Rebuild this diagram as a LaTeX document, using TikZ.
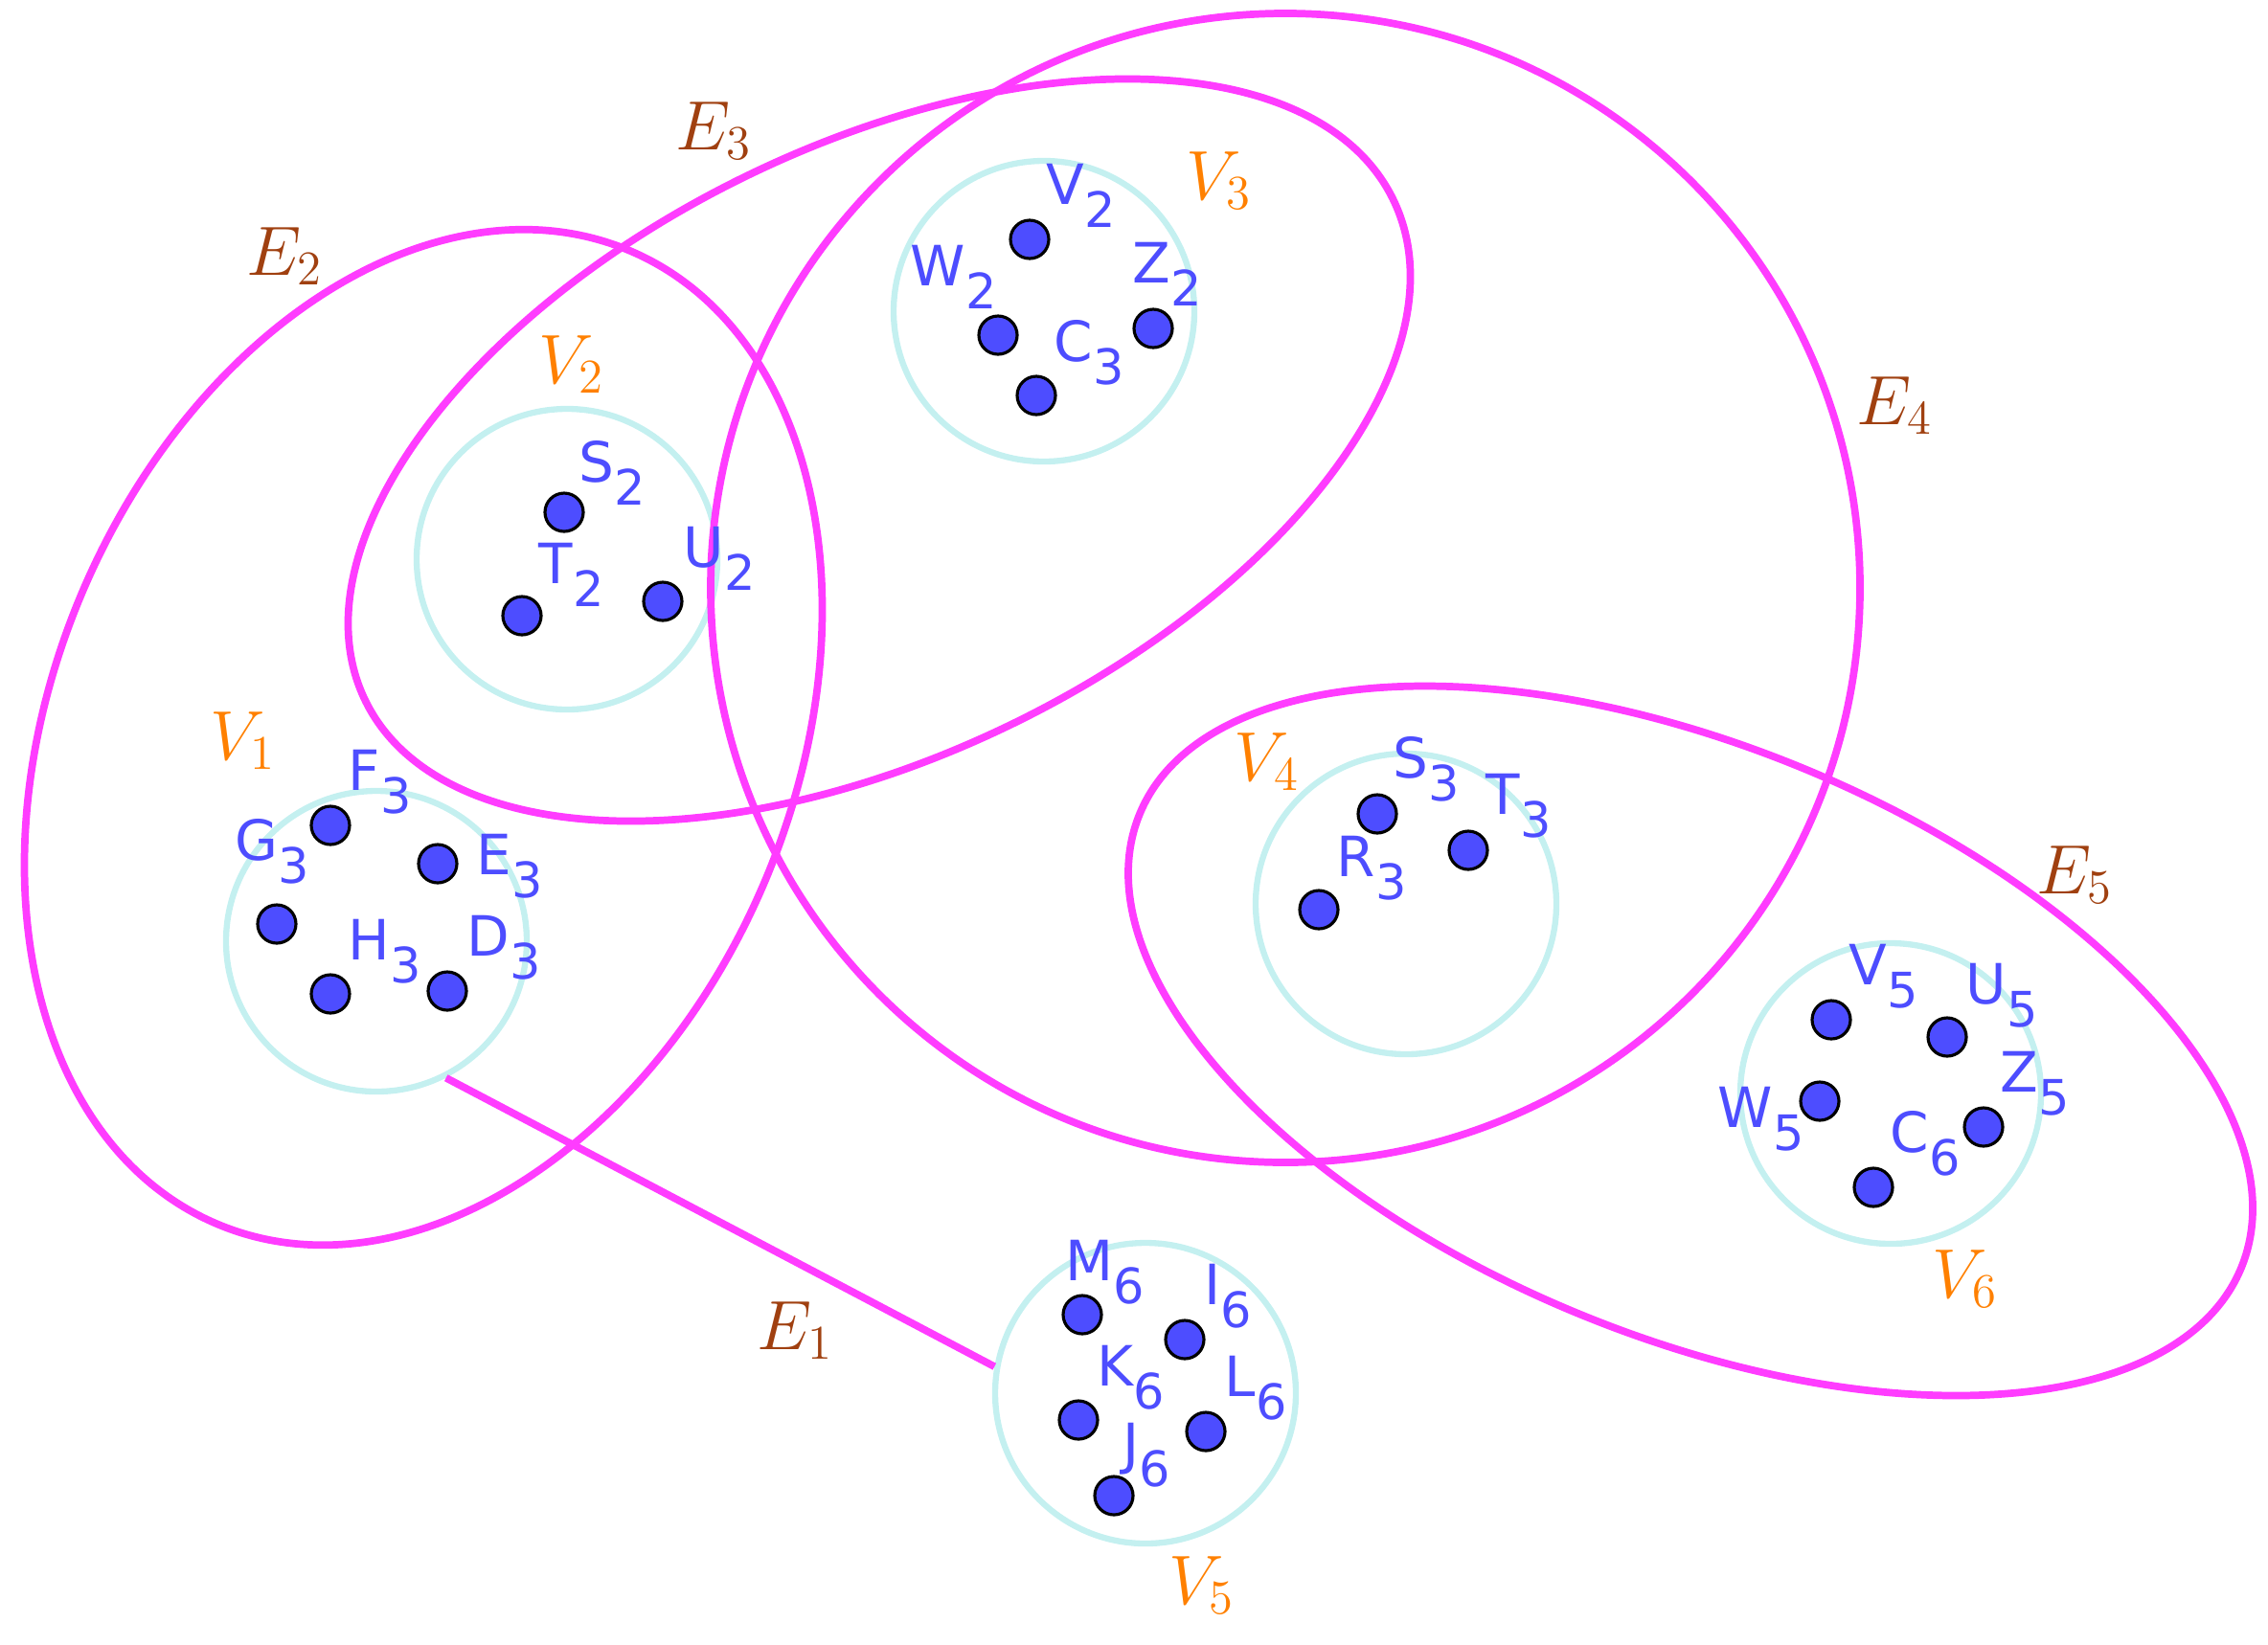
\documentclass[tikz,border=0pt]{standalone}
\usepackage{fontspec}
\usepackage{tikz}
\usetikzlibrary{positioning}
\newfontfamily\ptfont{DejaVu Sans}
\definecolor{ptblue}{RGB}{77,77,255}
\definecolor{setcyan}{RGB}{196,240,240}
\definecolor{edgemag}{RGB}{255,60,255}
\definecolor{setorange}{RGB}{255,128,0}
\definecolor{edgebrown}{RGB}{160,64,16}
\newcommand{\pname}[2]{#1\raisebox{-7pt}{\fontsize{14.5}{16}\selectfont#2}}

\begin{document}
\begin{tikzpicture}[vset/.style={circle,draw=setcyan,line width=1.8pt,minimum size=3.14cm,inner sep=0pt},
    pt/.style={circle,draw=black,fill=ptblue,line width=0.9pt,minimum size=4mm,inner sep=0pt},
    ptlabel/.style={anchor=base west,inner sep=0pt,text=ptblue,font=\ptfont\fontsize{16.5}{18}\selectfont},
    setlabel/.style={anchor=base west,inner sep=0pt,text=setorange,font=\fontsize{20}{24}\selectfont},
    edgelabel/.style={anchor=base west,inner sep=0pt,text=edgebrown,font=\fontsize{20}{24}\selectfont},
    hedge/.style={draw=edgemag,line width=2.2pt}]
    \useasboundingbox (0,0) rectangle (23.68,-17.17);
    \node[vset] (set1) at (3.93,-9.83) {};
    \node[vset] (set2) at (5.92,-5.84) {};
    \node[vset] (set3) at (10.90,-3.25) {};
    \node[vset] (set4) at (14.68,-9.44) {};
    \node[vset] (set5) at (11.96,-14.55) {};
    \node[vset] (set6) at (19.74,-11.42) {};
    \draw[hedge, rotate around={67:(4.42,-7.70)}] (4.42,-7.70) ellipse [x radius=5.52, y radius=3.87];
    \draw[hedge, rotate around={26:(9.18,-4.70)}] (9.18,-4.70) ellipse [x radius=5.97, y radius=3.18];
    \draw[hedge] (13.42,-6.14) circle [radius=6.0];
    \draw[hedge, rotate around={-22.4:(17.65,-10.87)}] (17.65,-10.87) ellipse [x radius=6.22, y radius=3.08];
    \draw[hedge] (set1.-63) -- (set5.170);
    \node[pt] (dF3) at (3.45,-8.62) {};
    \node[pt] (dE3) at (4.57,-9.02) {};
    \node[pt] (dG3) at (2.89,-9.65) {};
    \node[pt] (dH3) at (3.45,-10.38) {};
    \node[pt] (dD3) at (4.67,-10.35) {};
    \node[pt] (dS2) at (5.89,-5.35) {};
    \node[pt] (dT2) at (5.45,-6.43) {};
    \node[pt] (dU2) at (6.92,-6.28) {};
    \node[pt] (dV2) at (10.75,-2.50) {};
    \node[pt] (dW2) at (10.42,-3.50) {};
    \node[pt] (dZ2) at (12.04,-3.43) {};
    \node[pt] (dC3) at (10.82,-4.13) {};
    \node[pt] (dS3) at (14.38,-8.50) {};
    \node[pt] (dT3) at (15.33,-8.88) {};
    \node[pt] (dR3) at (13.77,-9.50) {};
    \node[pt] (dM6) at (11.30,-13.73) {};
    \node[pt] (dI6) at (12.37,-13.99) {};
    \node[pt] (dK6) at (11.26,-14.83) {};
    \node[pt] (dL6) at (12.59,-14.95) {};
    \node[pt] (dJ6) at (11.63,-15.62) {};
    \node[pt] (dV5) at (19.12,-10.65) {};
    \node[pt] (dU5) at (20.33,-10.83) {};
    \node[pt] (dW5) at (19.00,-11.50) {};
    \node[pt] (dZ5) at (20.71,-11.77) {};
    \node[pt] (dC6) at (19.56,-12.40) {};
    \node[ptlabel] (tF3) at (3.63,-8.25) {\pname{F}{3}};
    \node[ptlabel] (tG3) at (2.45,-8.98) {\pname{G}{3}};
    \node[ptlabel] (tE3) at (4.97,-9.13) {\pname{E}{3}};
    \node[ptlabel] (tH3) at (3.63,-10.02) {\pname{H}{3}};
    \node[ptlabel] (tD3) at (4.87,-9.98) {\pname{D}{3}};
    \node[ptlabel] (tS2) at (6.04,-5.03) {\pname{S}{2}};
    \node[ptlabel] (tT2) at (5.62,-6.09) {\pname{T}{2}};
    \node[ptlabel] (tU2) at (7.13,-5.92) {\pname{U}{2}};
    \node[ptlabel] (tV2) at (10.92,-2.13) {\pname{V}{2}};
    \node[ptlabel] (tW2) at (9.50,-2.98) {\pname{W}{2}};
    \node[ptlabel] (tZ2) at (11.82,-2.95) {\pname{Z}{2}};
    \node[ptlabel] (tC3) at (11.00,-3.77) {\pname{C}{3}};
    \node[ptlabel] (tS3) at (14.54,-8.12) {\pname{S}{3}};
    \node[ptlabel] (tT3) at (15.51,-8.50) {\pname{T}{3}};
    \node[ptlabel] (tR3) at (13.95,-9.15) {\pname{R}{3}};
    \node[ptlabel] (tM6) at (11.12,-13.37) {\pname{M}{6}};
    \node[ptlabel] (tI6) at (12.57,-13.62) {\pname{I}{6}};
    \node[ptlabel] (tK6) at (11.45,-14.47) {\pname{K}{6}};
    \node[ptlabel] (tL6) at (12.78,-14.58) {\pname{L}{6}};
    \node[ptlabel] (tJ6) at (11.72,-15.28) {\pname{J}{6}};
    \node[ptlabel] (tV5) at (19.30,-10.28) {\pname{V}{5}};
    \node[ptlabel] (tU5) at (20.52,-10.48) {\pname{U}{5}};
    \node[ptlabel] (tW5) at (17.93,-11.77) {\pname{W}{5}};
    \node[ptlabel] (tZ5) at (20.88,-11.40) {\pname{Z}{5}};
    \node[ptlabel] (tC6) at (19.73,-12.03) {\pname{C}{6}};
    \node[setlabel] (lV1) at (2.19,-7.93) {$V_1$};
    \node[setlabel] (lV2) at (5.62,-4.00) {$V_2$};
    \node[setlabel] (lV3) at (12.38,-2.08) {$V_3$};
    \node[setlabel] (lV4) at (12.88,-8.15) {$V_4$};
    \node[setlabel] (lV5) at (12.20,-16.75) {$V_5$};
    \node[setlabel] (lV6) at (20.17,-13.55) {$V_6$};
    \node[edgelabel] (lE1) at (7.90,-14.09) {$E_1$};
    \node[edgelabel] (lE2) at (2.57,-2.87) {$E_2$};
    \node[edgelabel] (lE3) at (7.05,-1.56) {$E_3$};
    \node[edgelabel] (lE4) at (19.38,-4.43) {$E_4$};
    \node[edgelabel] (lE5) at (21.26,-9.33) {$E_5$};
\end{tikzpicture}
\end{document}
